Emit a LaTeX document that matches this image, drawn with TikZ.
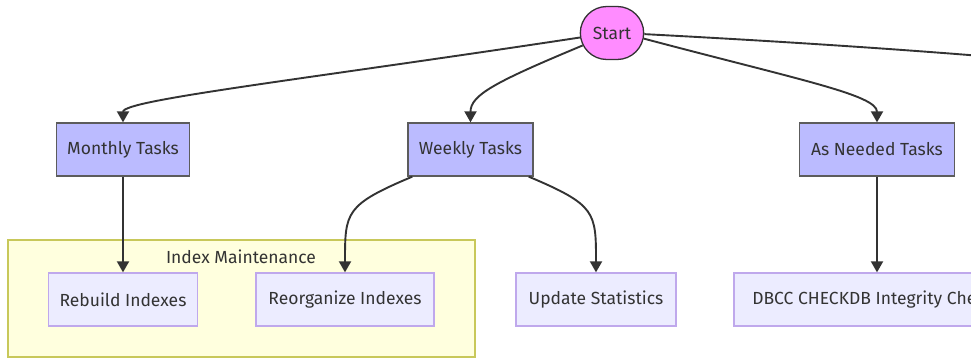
\documentclass[tikz,border=0pt]{standalone}
\usepackage{fontspec}
\setmainfont{Fira Sans}
\usepackage{xcolor}
\usetikzlibrary{arrows.meta, shapes.misc, positioning}

\definecolor{texte}{HTML}{333333}
\definecolor{rose}{HTML}{FF8CFF}
\definecolor{tache}{HTML}{BBBBFF}
\definecolor{feuille}{HTML}{ECECFF}
\definecolor{bordFeuille}{HTML}{BFA8EC}
\definecolor{fondGroupe}{HTML}{FFFFDE}
\definecolor{bordGroupe}{HTML}{C8C85A}

\tikzset{
  debut/.style={rounded rectangle, draw=texte, line width=1.3pt, fill=rose,
    minimum width=70pt, minimum height=53pt, text=texte, font=\fontsize{17.5}{20}\selectfont},
  tache/.style={rectangle, draw=texte!80, line width=1.3pt, fill=tache,
    minimum height=53pt, text=texte, font=\fontsize{17.5}{20}\selectfont},
  feuille/.style={rectangle, draw=bordFeuille, line width=1.3pt, fill=feuille,
    minimum height=53pt, text=texte, font=\fontsize{17.5}{20}\selectfont},
  fleche/.style={draw=texte, line width=1.9pt, -{Triangle[width=12pt,length=11pt]}}
}

\begin{document}
\begin{tikzpicture}[x=1pt,y=1pt]
    \useasboundingbox (0,0) rectangle (971,-359);
    \clip (0,0) rectangle (971,-359);

    % Groupe
    \draw[fill=fondGroupe, draw=bordGroupe, line width=1.2pt] (8,-240) rectangle (475,-357);
    \node[text=texte, font=\fontsize{17.5}{20}\selectfont] (indexCluster) at (241,-257) {Index Maintenance};

    % Noeuds
    \node[debut] (start) at (612,-33) {Start};
    \node[tache, minimum width=133pt] (monthlyTasks) at (123,-149.5) {Monthly Tasks};
    \node[tache, minimum width=125pt] (weeklyTasks) at (470.5,-149.5) {Weekly Tasks};
    \node[tache, minimum width=155pt] (asNeeded) at (877,-149.5) {As Needed Tasks};
    \node[feuille, minimum width=149pt] (rebuildIdx) at (123,-299.5) {Rebuild Indexes};
    \node[feuille, minimum width=178pt] (reorgIdx) at (345,-299.5) {Reorganize Indexes};
    \node[feuille, minimum width=160pt] (updateStats) at (596,-299.5) {Update Statistics};
    \node[feuille, minimum width=286pt] (dbccCheck) at (877,-299.5) {DBCC CHECKDB Integrity Checks};

    % Hors cadre
    \coordinate (dailyTasks) at (1350,-123);

    % Flèches
    \draw[fleche] (start.188) .. controls (300,-80) and (123,-100) .. (monthlyTasks.north);
    \draw[fleche] (start.203) .. controls (495,-82) and (470.5,-95) .. (weeklyTasks.north);
    \draw[fleche] (start.-10) .. controls (800,-80) and (877,-95) .. (asNeeded.north);
    \draw[fleche] (start.-2) .. controls (1100,-58) and (1350,-90) .. (dailyTasks);
    \draw[fleche] (monthlyTasks) -- (rebuildIdx);
    \draw[fleche] (weeklyTasks.205) .. controls (345,-205) and (345,-212) .. (reorgIdx.north);
    \draw[fleche] (weeklyTasks.335) .. controls (596,-205) and (596,-212) .. (updateStats.north);
    \draw[fleche] (asNeeded) -- (dbccCheck);
\end{tikzpicture}
\end{document}
